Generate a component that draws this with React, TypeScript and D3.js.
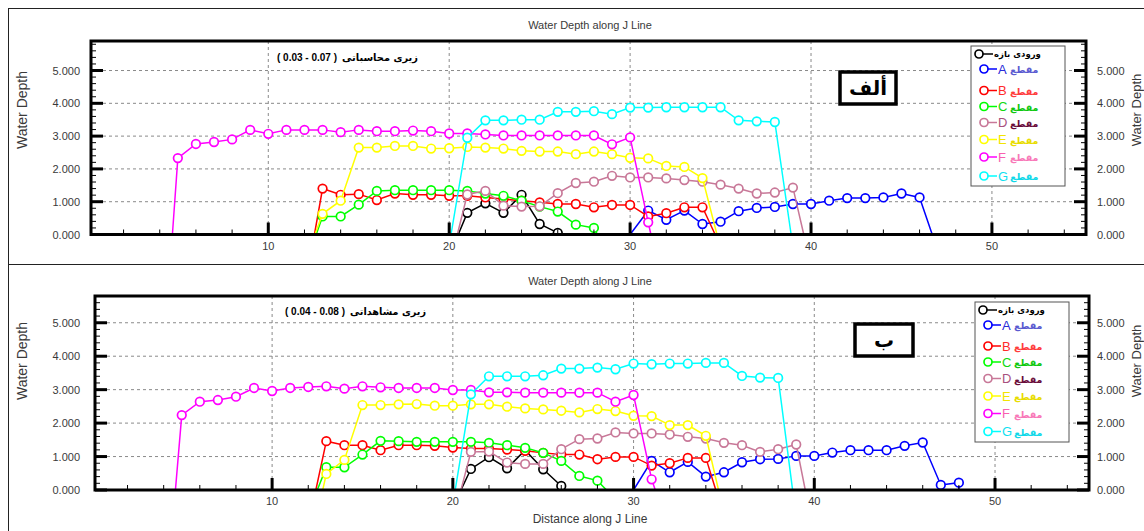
import React from 'react';
import * as d3 from 'd3';

// ---------- data ----------
const seriesKeys = ['in', 'A', 'B', 'C', 'D', 'E', 'F', 'G'];
const seriesColors = ['#000000', '#0000ff', '#ff0000', '#00ff00', '#c87898', '#ffff00', '#ff00ff', '#00ffff'];
const legendLetterColors = ['#000000', '#2a2ad8', '#ff2a2a', '#10d810', '#a8507e', '#f2e400', '#f860b0', '#10e0f0'];
const legendWordColors = ['#000000', '#5a5ad0', '#ff3c3c', '#10c810', '#6a0c3a', '#e8dc00', '#f878b8', '#10d8e8'];
const legendFirstLabel = 'ورودی بازه';
const legendWord = 'مقطع';

const yTicks = [0, 1, 2, 3, 4, 5];
const xTicks = [10, 20, 30, 40, 50];

// panel "alef" (computed roughness)
const tIn_x = [20.5, 21, 22, 23, 24, 25, 26];
const tIn_y = [0, 0.66, 0.95, 0.66, 1.21, 0.32, 0.05];
const tA_x = [30, 31, 32, 33, 34, 35, 36, 37, 38, 39, 40, 41, 42, 43, 44, 45, 46, 46.7];
const tA_y = [0, 0.73, 0.45, 0.73, 0.32, 0.39, 0.71, 0.81, 0.84, 0.93, 0.93, 1.03, 1.11, 1.11, 1.13, 1.25, 1.13, 0];
const tB_x = [12.55, 13, 14, 15, 16, 17, 18, 19, 20, 21, 22, 23, 24, 25, 26, 27, 28, 29, 30, 31, 32, 33, 34, 34.7];
const tB_y = [0, 1.40, 1.21, 1.23, 1.05, 1.25, 1.21, 1.21, 1.18, 1.18, 1.13, 1.08, 1.03, 0.98, 0.93, 0.93, 0.83, 0.90, 0.90, 0.55, 0.65, 0.83, 0.83, 0];
const tC_x = [12.65, 13, 14, 15, 16, 17, 18, 19, 20, 21, 22, 23, 24, 25, 26, 27, 28, 28.2];
const tC_y = [0, 0.55, 0.55, 0.91, 1.33, 1.35, 1.35, 1.35, 1.35, 1.33, 1.25, 1.18, 1.03, 0.85, 0.70, 0.30, 0.20, 0];
const tD_x = [20.45, 21, 22, 23, 24, 25, 26, 27, 28, 29, 30, 31, 32, 33, 34, 35, 36, 37, 38, 39, 39.6];
const tD_y = [0, 1.22, 1.33, 0.88, 0.85, 0.86, 1.26, 1.57, 1.61, 1.79, 1.74, 1.74, 1.71, 1.66, 1.61, 1.52, 1.40, 1.25, 1.28, 1.43, 0];
const tE_x = [12.58, 13, 14, 15, 16, 17, 18, 19, 20, 21, 22, 23, 24, 25, 26, 27, 28, 29, 30, 31, 32, 33, 34, 34.8];
const tE_y = [0, 0.63, 1.03, 2.65, 2.65, 2.70, 2.70, 2.62, 2.63, 2.67, 2.65, 2.62, 2.55, 2.53, 2.53, 2.45, 2.53, 2.45, 2.34, 2.32, 2.09, 2.06, 1.72, 0];
const tF_x = [4.7, 5, 6, 7, 8, 9, 10, 11, 12, 13, 14, 15, 16, 17, 18, 19, 20, 21, 22, 23, 24, 25, 26, 27, 28, 29, 30, 31, 31.15];
const tF_y = [0, 2.33, 2.76, 2.82, 2.90, 3.19, 3.07, 3.19, 3.19, 3.19, 3.12, 3.19, 3.15, 3.15, 3.17, 3.15, 3.08, 3.08, 3.05, 3.02, 3.02, 3.02, 3.02, 3.02, 3.02, 2.75, 2.96, 0.37, 0];
const tG_x = [20.1, 21, 22, 23, 24, 25, 26, 27, 28, 29, 30, 31, 32, 33, 34, 35, 36, 37, 38, 38.9];
const tG_y = [0, 2.95, 3.48, 3.48, 3.50, 3.50, 3.74, 3.74, 3.76, 3.67, 3.87, 3.87, 3.88, 3.88, 3.88, 3.88, 3.48, 3.45, 3.43, 0];

// panel "be" (observed roughness)
const bIn_x = [20.45, 21, 22, 23, 24, 25, 26];
const bIn_y = [0, 0.63, 0.98, 0.65, 1.19, 0.62, 0.12];
const bA_x = [30, 31, 32, 33, 34, 35, 36, 37, 38, 39, 40, 41, 42, 43, 44, 45, 46, 47, 48, 48];
const bA_y = [0, 0.87, 0.53, 0.84, 0.40, 0.53, 0.83, 0.92, 0.93, 1.02, 1.02, 1.12, 1.19, 1.19, 1.19, 1.32, 1.42, 0.15, 0.22, 0];
const bB_x = [12.42, 13, 14, 15, 16, 17, 18, 19, 20, 21, 22, 23, 24, 25, 26, 27, 28, 29, 30, 31, 32, 33, 34, 34.55];
const bB_y = [0, 1.46, 1.34, 1.34, 1.19, 1.34, 1.34, 1.32, 1.27, 1.24, 1.24, 1.21, 1.17, 1.11, 1.06, 1.06, 0.92, 0.99, 0.99, 0.73, 0.80, 0.96, 0.96, 0];
const bC_x = [12.5, 13, 14, 15, 16, 17, 18, 19, 20, 21, 22, 23, 24, 25, 26, 27, 28, 28.5];
const bC_y = [0, 0.68, 0.68, 1.06, 1.47, 1.46, 1.44, 1.44, 1.44, 1.44, 1.41, 1.34, 1.26, 1.11, 0.87, 0.42, 0.28, 0];
const bD_x = [20.45, 21, 22, 23, 24, 25, 26, 27, 28, 29, 30, 31, 32, 33, 34, 35, 36, 37, 38, 39, 39.5];
const bD_y = [0, 1.14, 1.15, 0.82, 0.78, 0.78, 1.22, 1.52, 1.54, 1.72, 1.69, 1.69, 1.66, 1.59, 1.54, 1.41, 1.34, 1.14, 1.22, 1.36, 0];
const bE_x = [12.8, 13, 14, 15, 16, 17, 18, 19, 20, 21, 22, 23, 24, 25, 26, 27, 28, 29, 30, 31, 32, 33, 34, 34.7];
const bE_y = [0, 0.48, 0.90, 2.54, 2.54, 2.56, 2.57, 2.52, 2.52, 2.56, 2.56, 2.49, 2.44, 2.41, 2.37, 2.32, 2.42, 2.36, 2.22, 2.21, 1.94, 1.94, 1.62, 0];
const bF_x = [4.65, 5, 6, 7, 8, 9, 10, 11, 12, 13, 14, 15, 16, 17, 18, 19, 20, 21, 22, 23, 24, 25, 26, 27, 28, 29, 30, 31, 31.2];
const bF_y = [0, 2.24, 2.64, 2.69, 2.79, 3.05, 2.96, 3.05, 3.08, 3.10, 3.03, 3.10, 3.07, 3.05, 3.05, 3.05, 2.99, 2.99, 2.92, 2.92, 2.91, 2.91, 2.91, 2.91, 2.91, 2.64, 2.84, 0.32, 0];
const bG_x = [20.13, 21, 22, 23, 24, 25, 26, 27, 28, 29, 30, 31, 32, 33, 34, 35, 36, 37, 38, 38.8];
const bG_y = [0, 2.86, 3.40, 3.40, 3.40, 3.43, 3.63, 3.63, 3.66, 3.61, 3.78, 3.76, 3.78, 3.78, 3.80, 3.80, 3.41, 3.36, 3.35, 0];

const topXs = [tIn_x, tA_x, tB_x, tC_x, tD_x, tE_x, tF_x, tG_x];
const topYs = [tIn_y, tA_y, tB_y, tC_y, tD_y, tE_y, tF_y, tG_y];
const botXs = [bIn_x, bA_x, bB_x, bC_x, bD_x, bE_x, bF_x, bG_x];
const botYs = [bIn_y, bA_y, bB_y, bC_y, bD_y, bE_y, bF_y, bG_y];

const chartTitle = 'Water Depth along J Line';
const yTitle = 'Water Depth';
const xTitle = 'Distance along J Line';

const FONT = 'Arial, "Liberation Sans", sans-serif';
const AFONT = '"DejaVu Sans", "Noto Sans", sans-serif';
const TXT = '#3a3a3a';

type PanelProps = {
  left: number; right: number; top: number; bottom: number; ymax: number;
  xs: number[][]; ys: number[][];
  titleY: number; xLabelY: number; showXTitle: boolean;
  annParen: string; annWords: string; annY: number; annX: number; annWX: number; annWW: number;
  tag: string; tagBox: [number, number, number, number];
  legBox: [number, number, number, number]; legYs: number[];
  yTitleY: number;
};

function Panel(p: PanelProps) {
  const x = d3.scaleLinear().domain([0.2, 55.2]).range([p.left, p.right]);
  const y = d3.scaleLinear().domain([0, p.ymax]).range([p.bottom, p.top]);
  const line = d3.line<[number, number]>().x(d => x(d[0])).y(d => y(d[1]));
  const minorY = d3.range(0, p.ymax, 0.2);
  const minorX = d3.range(2, 55, 2);
  const [lx, ly, lw, lh] = p.legBox;
  const [bx, by, bw, bh] = p.tagBox;
  return (
    <g>
      <defs>
        <clipPath id={'clip' + p.top}>
          <rect x={p.left} y={p.top} width={p.right - p.left} height={p.bottom - p.top} />
        </clipPath>
      </defs>
      <text x={590} y={p.titleY} textAnchor="middle" fontFamily={FONT} fontSize={11} fill={TXT}>{chartTitle}</text>
      {/* grid */}
      {yTicks.filter(t => t > 0).map(t => (
        <line key={'gy' + t} x1={p.left} x2={p.right} y1={y(t)} y2={y(t)} stroke="#8a8a8a" strokeDasharray="3,3" strokeWidth={1} />
      ))}
      {xTicks.map(t => (
        <line key={'gx' + t} x1={x(t)} x2={x(t)} y1={p.top} y2={p.bottom} stroke="#8a8a8a" strokeDasharray="3,3" strokeWidth={1} />
      ))}
      {/* annotation */}
      <text x={p.annX} y={p.annY} textAnchor="end" fontFamily={FONT} fontSize={10} fontWeight="bold" fill="#000" style={{ whiteSpace: 'pre' }}>{p.annParen}</text>
      <text x={p.annWX} y={p.annY} fontFamily={AFONT} fontSize={10} fontWeight="bold" fill="#000"
        textLength={p.annWW} lengthAdjust="spacingAndGlyphs">{p.annWords}</text>
      {/* series */}
      <g clipPath={`url(#clip${p.top})`}>
        {p.xs.map((xs, i) => {
          const pts: [number, number][] = xs.map((v, j) => [v, p.ys[i][j]]);
          return (
            <g key={'s' + i}>
              <path d={line(pts) || ''} fill="none" stroke={seriesColors[i]} strokeWidth={1.5} />
              {pts.filter(d => d[1] > 0).map((d, j) => (
                <circle key={j} cx={x(d[0])} cy={y(d[1])} r={4.3} fill="#fff" stroke={seriesColors[i]} strokeWidth={1.7} />
              ))}
            </g>
          );
        })}
      </g>
      {/* axes frame */}
      <rect x={p.left} y={p.top} width={p.right - p.left} height={p.bottom - p.top} fill="none" stroke="#000" strokeWidth={3} />
      {minorY.map((t, k) => (
        <g key={'my' + k}>
          <line x1={p.left} x2={p.left + 5} y1={y(t)} y2={y(t)} stroke="#000" strokeWidth={1} />
          <line x1={p.right} x2={p.right - 5} y1={y(t)} y2={y(t)} stroke="#000" strokeWidth={1} />
        </g>
      ))}
      {yTicks.map(t => (
        <g key={'My' + t}>
          <line x1={p.left} x2={p.left + 12} y1={y(t)} y2={y(t)} stroke="#000" strokeWidth={3} />
          <line x1={p.right} x2={p.right - 12} y1={y(t)} y2={y(t)} stroke="#000" strokeWidth={3} />
          <text x={80} y={y(t) + 4} textAnchor="end" fontFamily={FONT} fontSize={11} fill={TXT}>{t.toFixed(3)}</text>
          <text x={1097} y={y(t) + 4} textAnchor="start" fontFamily={FONT} fontSize={11} fill={TXT}>{t.toFixed(3)}</text>
        </g>
      ))}
      {minorX.map(t => (
        <line key={'mx' + t} x1={x(t)} x2={x(t)} y1={p.bottom} y2={p.bottom - 5} stroke="#000" strokeWidth={1} />
      ))}
      {xTicks.map(t => (
        <g key={'Mx' + t}>
          <line x1={x(t)} x2={x(t)} y1={p.bottom} y2={p.bottom - 12} stroke="#000" strokeWidth={3} />
          <text x={x(t)} y={p.xLabelY} textAnchor="middle" fontFamily={FONT} fontSize={11} fill={TXT}>{t}</text>
        </g>
      ))}
      <text transform={`translate(27,${p.yTitleY}) rotate(-90)`} textAnchor="middle" fontFamily={FONT} fontSize={14} fill={TXT}>{yTitle}</text>
      <text transform={`translate(1141,${p.yTitleY}) rotate(-90)`} textAnchor="middle" fontFamily={FONT} fontSize={13} fill={TXT}>{yTitle}</text>
      {p.showXTitle && (
        <text x={590} y={p.xLabelY + 18} textAnchor="middle" fontFamily={FONT} fontSize={12} fill={TXT}>{xTitle}</text>
      )}
      {/* tag box */}
      <rect x={bx} y={by} width={bw} height={bh} fill="#fff" stroke="#000" strokeWidth={3.5} />
      <text x={bx + bw / 2} y={by + bh / 2 + 7} textAnchor="middle" fontFamily={AFONT} fontSize={20} fontWeight="bold" fill="#000">{p.tag}</text>
      {/* legend */}
      <rect x={lx} y={ly} width={lw} height={lh} fill="#fff" stroke="#555" strokeWidth={1} />
      {seriesKeys.map((k, i) => {
        const yy = p.legYs[i];
        if (i === 0) {
          return (
            <g key={'lg' + i}>
              <line x1={lx + 8} x2={lx + 22} y1={yy} y2={yy} stroke="#000" strokeWidth={1.5} />
              <circle cx={lx + 8} cy={yy} r={4} fill="#fff" stroke="#000" strokeWidth={1.7} />
              <text x={lx + 23} y={yy + 3} fontFamily={AFONT} fontSize={8.5} fontWeight="bold" fill="#000">{legendFirstLabel}</text>
            </g>
          );
        }
        return (
          <g key={'lg' + i}>
            <line x1={lx + 13} x2={lx + 26} y1={yy} y2={yy} stroke={seriesColors[i]} strokeWidth={1.5} />
            <circle cx={lx + 13} cy={yy} r={4} fill="#fff" stroke={seriesColors[i]} strokeWidth={1.7} />
            <text x={lx + 27} y={yy + 4.5} fontFamily={FONT} fontSize={13} fill={legendLetterColors[i]}>{k}</text>
            <text x={lx + 39} y={yy + 4} fontFamily={AFONT} fontSize={9.5} fontWeight="bold" fill={legendWordColors[i]}>{legendWord}</text>
          </g>
        );
      })}
    </g>
  );
}

export default function App() {
  return (
    <svg width={1144} height={531} style={{ position: 'absolute', left: 0, top: 0, background: '#fff' }}>
      <rect x={0} y={0} width={1144} height={531} fill="#fff" />
      <line x1={8.5} x2={8.5} y1={8} y2={531} stroke="#222" strokeWidth={1} />
      <line x1={8} x2={1144} y1={8.5} y2={8.5} stroke="#222" strokeWidth={1} />
      <line x1={8} x2={1144} y1={264.5} y2={264.5} stroke="#222" strokeWidth={1} />
      <Panel
        left={91} right={1086} top={41} bottom={234.5} ymax={5.9}
        xs={topXs} ys={topYs}
        titleY={29} xLabelY={250} showXTitle={false}
        annParen="( 0.03 - 0.07 )" annWords="زیری محاسباتی" annY={61} annX={337} annWX={342} annWW={76}
        tag="ألف" tagBox={[840, 72, 56, 32]}
        legBox={[971, 46, 94, 140]} legYs={[54, 69, 90.5, 106.5, 122.5, 139.5, 157, 176]}
        yTitleY={110}
      />
      <Panel
        left={95} right={1089} top={296} bottom={490} ymax={5.8}
        xs={botXs} ys={botYs}
        titleY={285} xLabelY={505} showXTitle={true}
        annParen="( 0.04 - 0.08 )" annWords="زیری مشاهداتی" annY={315} annX={345} annWX={350} annWW={76}
        tag="ب" tagBox={[855, 324, 58, 32]}
        legBox={[975, 302, 94, 140]} legYs={[310, 325, 346, 362, 378.5, 396, 413.5, 431.5]}
        yTitleY={361}
      />
    </svg>
  );
}
